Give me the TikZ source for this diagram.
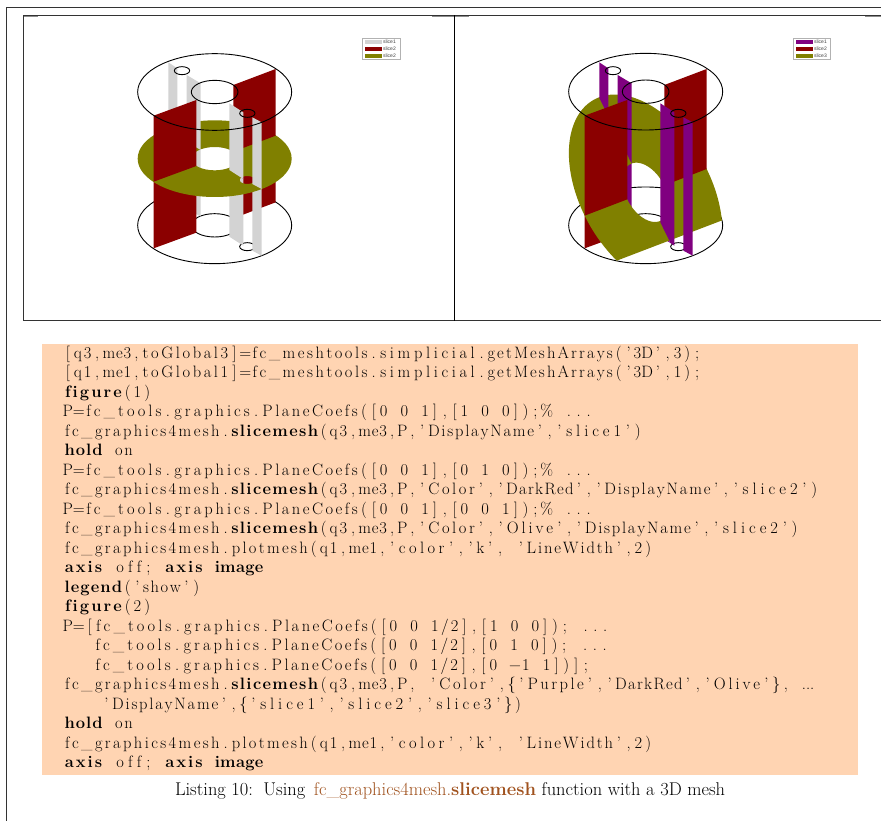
\documentclass[tikz,border=0pt]{standalone}
\usepackage{fontspec}
\setmainfont{Latin Modern Roman}
\newfontfamily\legfont{Liberation Sans}
\definecolor{cgray}{RGB}{211,211,211}
\definecolor{cred}{RGB}{139,0,0}
\definecolor{colive}{RGB}{128,128,0}
\definecolor{cpurple}{RGB}{128,0,128}
\definecolor{cpeach}{RGB}{255,212,178}
\definecolor{cbrown}{RGB}{160,82,30}
\newcommand\SP{\hbox{\kern 11pt}}
\newcommand\TD{\hbox{...}}
\ExplSyntaxOn
\tl_new:N \l_resk_word_tl
\dim_new:N \l_resk_base_dim
\dim_set:Nn \l_resk_base_dim {9.8pt}
\clist_const:Nn \c_resk_kw_clist {figure,hold,axis,image,legend,slicemesh}
\cs_new_protected:Npn \resk_char:N #1
  { \token_if_math_subscript:NTF #1 { \textunderscore } { #1 } }
\cs_new_protected:Npn \resk_flush:
  {
    \tl_if_empty:NF \l_resk_word_tl
      {
        \group_begin:
        \clist_if_in:NVT \c_resk_kw_clist \l_resk_word_tl { \bfseries }
        \int_set:Nn \l_tmpa_int { \tl_count:N \l_resk_word_tl }
        \hbox_set:Nn \l_tmpa_box
          { \tl_map_inline:Nn \l_resk_word_tl { \resk_char:N ##1 \kern 0pt } }
        \dim_set:Nn \l_tmpa_dim
          { ( \l_resk_base_dim * \l_tmpa_int - \box_wd:N \l_tmpa_box ) / \l_tmpa_int }
        \dim_compare:nNnT { \l_tmpa_dim } < { 0pt } { \dim_zero:N \l_tmpa_dim }
        \tl_map_inline:Nn \l_resk_word_tl
          { \kern 0.5\l_tmpa_dim \resk_char:N ##1 \kern 0.5\l_tmpa_dim }
        \group_end:
        \tl_clear:N \l_resk_word_tl
      }
  }
\cs_new_protected:Npn \resk_cell:N #1
  {
    \resk_flush:
    \hbox_set:Nn \l_tmpa_box { #1 }
    \dim_compare:nNnTF { \box_wd:N \l_tmpa_box } < { \l_resk_base_dim }
      { \hbox_to_wd:nn { \l_resk_base_dim } { \hss \box_use:N \l_tmpa_box \hss } }
      { \box_use:N \l_tmpa_box }
  }
\cs_new_protected:Npn \resk_token:N #1
  {
    \token_if_letter:NTF #1
      { \tl_put_right:Nn \l_resk_word_tl { #1 } }
      {
        \token_if_math_subscript:NTF #1
          { \tl_put_right:Nn \l_resk_word_tl { #1 } }
          {
            \tl_if_in:nnTF { 0123456789 } { #1 }
              { \tl_put_right:Nn \l_resk_word_tl { #1 } }
              { \resk_cell:N #1 }
          }
      }
  }
\NewDocumentCommand \codetext { m }
  { \tl_map_inline:nn { #1 } { \resk_token:N ##1 } \resk_flush: }
\ExplSyntaxOff
\tikzset{
  codeline/.style={anchor=base west,inner sep=0pt,outer sep=0pt,font=\fontsize{16.5}{18}\selectfont},
  capline/.style={anchor=base west,inner sep=0pt,outer sep=0pt,font=\fontsize{18.45}{20}\selectfont},
  legtext/.style={anchor=west,inner sep=0pt,outer sep=0pt,text=black!75,font=\legfont\fontsize{5}{6}\selectfont},
  wire/.style={draw=black,line width=0.9pt},
  framing/.style={draw=black!80,line width=0.9pt},
  legbox/.style={draw=black!30,fill=white,line width=0.8pt},
}
\begin{document}
\begin{tikzpicture}[x=1pt,y=-1pt]
\useasboundingbox (0,0) rectangle (881,821);
\fill[white] (0,0) rectangle (881,821);
% frames
\draw[framing] (6,821) -- (6,7) -- (881,7);
\draw[black!45,line width=1.2pt] (24,16.2) -- (38,16.2) (432,16.2) -- (469,16.2) (865,16.2) -- (881,16.2);
\draw[framing] (881,15.5) -- (23,15.5) -- (23,320.5) -- (881,320.5);
\draw[black,line width=0.9pt] (454.3,15.5) -- (454.3,320.5);
% LEFT FIGURE
\begin{scope}[shift={(100,40)},scale=0.33333]
  \draw[wire] (344,556) ellipse [x radius=231,y radius=115];
  \draw[wire] (344,556) ellipse [x radius=70,y radius=35];
  \draw[wire] (442,620) ellipse [x radius=23,y radius=12];
  % lower parts
  \fill[cgray] (205,267) -- (232,285) -- (232,485) -- (205,467) -- cycle;
  \fill[cgray] (260,305) -- (302,330) -- (302,530) -- (260,505) -- cycle;
  \fill[cred] (161,425) -- (289,378) -- (289,578) -- (161,625) -- cycle;
  \fill[cred] (400,335) -- (527,287) -- (527,487) -- (400,535) -- cycle;
  \fill[cgray] (388,390) -- (430,417) -- (430,617) -- (388,590) -- cycle;
  \fill[cgray] (457,432) -- (485,447) -- (485,647) -- (457,632) -- cycle;
  % olive disc
  \fill[colive,even odd rule] (344,356) ellipse [x radius=231,y radius=115]
     (344,356) ellipse [x radius=70,y radius=35]
     (442,420) ellipse [x radius=23,y radius=12];
  % upper parts
  \fill[cgray] (205,67) -- (232,85) -- (232,285) -- (205,267) -- cycle;
  \fill[cgray] (260,105) -- (302,130) -- (302,330) -- (260,305) -- cycle;
  \fill[cred] (161,227) -- (289,180) -- (289,378) -- (161,425) -- cycle;
  \fill[cred] (400,135) -- (527,87) -- (527,287) -- (400,335) -- cycle;
  \fill[cgray] (388,190) -- (430,217) -- (430,417) -- (388,390) -- cycle;
  \fill[cgray] (457,232) -- (485,247) -- (485,447) -- (457,432) -- cycle;
  % top rings
  \draw[wire] (344,156) ellipse [x radius=231,y radius=115];
  \draw[wire] (344,156) ellipse [x radius=70,y radius=35];
  \draw[wire] (246,92) ellipse [x radius=23,y radius=12];
  \draw[wire] (442,220) ellipse [x radius=23,y radius=12];
\end{scope}
% RIGHT FIGURE
\begin{scope}[shift={(540,30)},scale=0.33333]
  \draw[wire] (317,586) ellipse [x radius=231,y radius=115];
  \draw[wire] (317,586) ellipse [x radius=70,y radius=35];
  \draw[wire] (415,650) ellipse [x radius=23,y radius=12];
  % lower parts
  \fill[cred] (134,557) -- (262,508) -- (262,608) -- (134,655) -- cycle;
  \fill[cred] (373,466) -- (500,417) -- (500,517) -- (373,565) -- cycle;
  \fill[cpurple] (233,316) -- (275,401) -- (275,560) -- (233,535) -- cycle;
  \fill[cpurple] (361,577) -- (388,632) -- (388,637) -- (361,620) -- cycle;
  % olive tilted slice
  \fill[colive,even odd rule]
    plot[domain=149.5:390.5,samples=90,variable=\t] ({317+183*cos(\t)+140*sin(\t)},{487-70*cos(\t)+285*sin(\t)}) -- cycle
    plot[domain=0:360,samples=60,variable=\t] ({317+55.4*cos(\t)+42.4*sin(\t)},{487-21.2*cos(\t)+86.4*sin(\t)}) -- cycle;
  % upper parts
  \fill[cpurple] (178,97) -- (205,115) -- (205,259) -- (178,204) -- cycle;
  \fill[cpurple] (233,135) -- (275,160) -- (275,401) -- (233,316) -- cycle;
  \fill[cred] (134,257) -- (262,210) -- (262,508) -- (134,557) -- cycle;
  \fill[cred] (373,165) -- (500,117) -- (500,417) -- (373,466) -- cycle;
  \fill[cpurple] (361,220) -- (403,247) -- (403,647) -- (388,637) -- (388,632) -- (361,577) -- cycle;
  \fill[cpurple] (430,262) -- (458,277) -- (458,677) -- (430,662) -- cycle;
  % top rings
  \draw[wire] (317,185) ellipse [x radius=231,y radius=115];
  \draw[wire] (317,185) ellipse [x radius=70,y radius=35];
  \draw[wire] (219,122) ellipse [x radius=23,y radius=12];
  \draw[wire] (415,250) ellipse [x radius=23,y radius=12];
\end{scope}
% legends
\draw[legbox] (362.7,38.3) rectangle (400,59.7);
\fill[cgray] (365,40) rectangle (381.7,44.2);
\fill[cred] (365,46.8) rectangle (381.7,51);
\fill[colive] (365,53.6) rectangle (381.7,57.8);
\node[legtext] (la) at (383,42.1) {slice1};
\node[legtext] (lb) at (383,48.9) {slice2};
\node[legtext] (lc) at (383,55.7) {slice2};
\draw[legbox] (793.5,38.3) rectangle (830.5,59.7);
\fill[cpurple] (796,40) rectangle (812.5,44.2);
\fill[cred] (796,46.8) rectangle (812.5,51);
\fill[colive] (796,53.6) rectangle (812.5,57.8);
\node[legtext] (ra) at (814,42.1) {slice1};
\node[legtext] (rb) at (814,48.9) {slice2};
\node[legtext] (rc) at (814,55.7) {slice3};
% listing
\fill[cpeach] (42,344) rectangle (858,775);
\node[codeline] (l1) at (63,358) {\codetext{[q3,me3,toGlobal3]=fc_meshtools.simplicial.getMeshArrays('3D',3);}};
\node[codeline] (l2) at (63,377.5) {\codetext{[q1,me1,toGlobal1]=fc_meshtools.simplicial.getMeshArrays('3D',1);}};
\node[codeline] (l3) at (64,397) {\codetext{figure(1)}};
\node[codeline] (l4) at (62.5,416.5) {\codetext{P=fc_tools.graphics.PlaneCoefs([0\SP 0\SP 1],[1\SP 0\SP 0]);\%\SP ...}};
\node[codeline] (l5) at (64,436) {\codetext{fc_graphics4mesh.slicemesh(q3,me3,P,'DisplayName','slice1')}};
\node[codeline] (l6) at (64,455.5) {\codetext{hold\SP on}};
\node[codeline] (l7) at (62.5,475) {\codetext{P=fc_tools.graphics.PlaneCoefs([0\SP 0\SP 1],[0\SP 1\SP 0]);\%\SP ...}};
\node[codeline] (l8) at (64,494.5) {\codetext{fc_graphics4mesh.slicemesh(q3,me3,P,'Color','DarkRed','DisplayName','slice2')}};
\node[codeline] (l9) at (62.5,514) {\codetext{P=fc_tools.graphics.PlaneCoefs([0\SP 0\SP 1],[0\SP 0\SP 1]);\%\SP ...}};
\node[codeline] (l10) at (64,533.5) {\codetext{fc_graphics4mesh.slicemesh(q3,me3,P,'Color','Olive','DisplayName','slice2')}};
\node[codeline] (l11) at (64,553) {\codetext{fc_graphics4mesh.plotmesh(q1,me1,'color','k',\SP 'LineWidth',2)}};
\node[codeline] (l12) at (64,572.5) {\codetext{axis\SP off;\SP axis\SP image}};
\node[codeline] (l13) at (64,592) {\codetext{legend('show')}};
\node[codeline] (l14) at (64,611.5) {\codetext{figure(2)}};
\node[codeline] (l15) at (62.5,631) {\codetext{P=[fc_tools.graphics.PlaneCoefs([0\SP 0\SP 1/2],[1\SP 0\SP 0]);\SP ...}};
\node[codeline] (l16) at (94,650.5) {\codetext{fc_tools.graphics.PlaneCoefs([0\SP 0\SP 1/2],[0\SP 1\SP 0]);\SP ...}};
\node[codeline] (l17) at (94,670) {\codetext{fc_tools.graphics.PlaneCoefs([0\SP 0\SP 1/2],[0\SP −1\SP 1])];}};
\node[codeline] (l18) at (64,689.5) {\codetext{fc_graphics4mesh.slicemesh(q3,me3,P,\SP 'Color',\{'Purple','DarkRed','Olive'\},\SP\TD}};
\node[codeline] (l19) at (101.5,709) {\codetext{'DisplayName',\{'slice1','slice2','slice3'\})}};
\node[codeline] (l20) at (64,728.5) {\codetext{hold\SP on}};
\node[codeline] (l21) at (64,748) {\codetext{fc_graphics4mesh.plotmesh(q1,me1,'color','k',\SP 'LineWidth',2)}};
\node[codeline] (l22) at (64,767.5) {\codetext{axis\SP off;\SP axis\SP image}};
\node[capline] (cap) at (175,795.5) {Listing 10:\hspace{3pt} Using\hspace{3pt} \textcolor{cbrown}{fc\_graphics4mesh.\textbf{slicemesh}} function with a 3D mesh};
\end{tikzpicture}
\end{document}
